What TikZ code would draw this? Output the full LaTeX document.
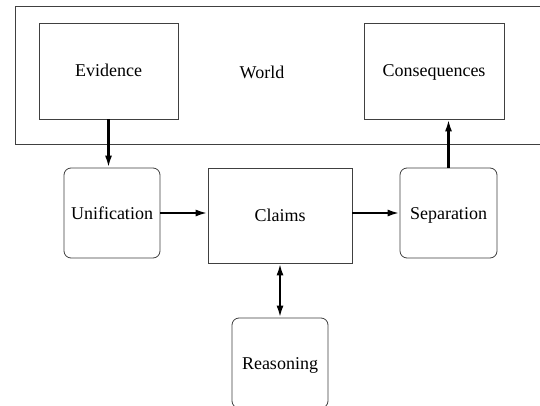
\documentclass[tikz,border=0pt]{standalone}
\usepackage{fontspec}
\setmainfont{Liberation Serif}
\usetikzlibrary{arrows.meta}

\begin{document}
\begin{tikzpicture}[x=1pt, y=-1pt, >={Latex[length=12pt,width=7pt]},
    every node/.style={font=\fontsize{18}{20}\selectfont},
    sqbox/.style={draw=black!75, line width=0.8pt, inner sep=0pt,
        text height=13pt, text depth=1pt},
    rdbox/.style={sqbox, rounded corners=7pt},
    flow/.style={->, line width=2.2pt}]
        \useasboundingbox (0,0) rectangle (540,406);
        \clip (0,0) rectangle (540,406);
        \fill[white] (0,0) rectangle (540,406);
        % the world
        \node[sqbox, minimum width=560pt, minimum height=138pt] (world) at (295,75) {};
        \node (wlabel) at (262,72) {World};
        \node[sqbox, minimum width=139pt, minimum height=96pt] (evid) at (108.5,71) {Evidence};
        \node[sqbox, minimum width=140pt, minimum height=96pt] (cons) at (434,71) {Consequences};
        % the argument
        \node[rdbox, minimum width=96pt, minimum height=90pt] (unif) at (112,213) {Unification};
        \node[sqbox, minimum width=144pt, minimum height=95pt] (claims) at (280,215.5) {Claims};
        \node[rdbox, minimum width=97pt, minimum height=90pt] (sep) at (448.5,213) {Separation};
        \node[rdbox, minimum width=96pt, minimum height=90pt] (reas) at (280,363) {Reasoning};
        \draw[flow] (evid.south) -- (evid.south |- unif.north);
        \draw[flow] (unif.east) -- (unif.east -| claims.west);
        \draw[flow] (claims.east |- sep.west) -- (sep.west);
        \draw[flow] (sep.north) -- (sep.north |- cons.south);
        \draw[flow, <->] (claims.south) -- (reas.north);
    \end{tikzpicture}
\end{document}
